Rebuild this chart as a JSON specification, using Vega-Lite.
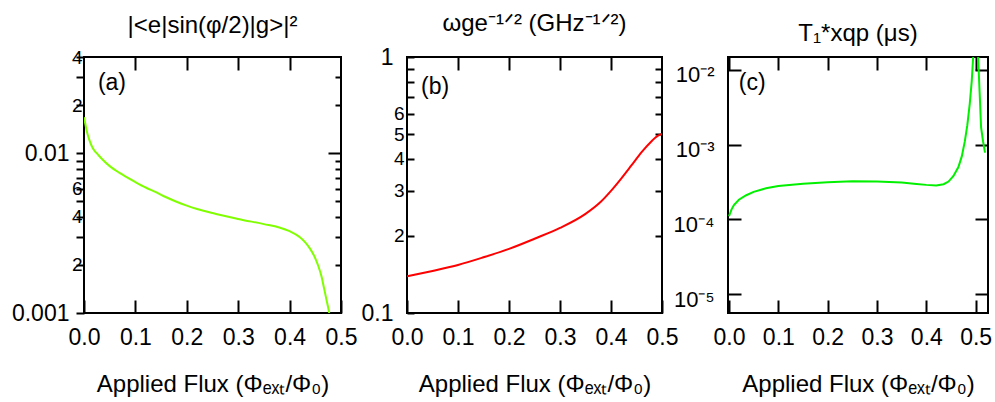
{
  "$schema": "https://vega.github.io/schema/vega-lite/v6.json",
  "autosize": {"type": "pad"},
  "padding": {"left": 10, "top": 11, "right": 5, "bottom": 5},
  "background": "white",
  "spacing": 66,
  "bounds": "flush",
  "config": {
    "view": {"stroke": "black", "strokeWidth": 2},
    "axis": {"domain": false, "grid": false, "ticks": true, "zindex": 1, "tickColor": "black", "tickWidth": 2, "tickOpacity": 1, "labelColor": "black", "labelFont": "Liberation Sans", "titleFont": "Liberation Sans", "titleFontWeight": "normal", "titleFontSize": 24, "labelFontSize": 23, "labelFlush": false, "labelOverlap": false, "titleColor": "black"},
    "title": {"font": "Liberation Sans", "fontSize": 24, "fontWeight": "normal", "color": "black", "offset": 10}
  },
  "hconcat": [
    {
      "width": 257, "height": 256,
      "title": {"text": "|<e|sin(φ/2)|g>|²"},
      "layer": [
        {
          "data": {"values": [
            {"flux": 0, "value": 0.0168}, {"flux": 0.003, "value": 0.015}, {"flux": 0.006, "value": 0.0135}, {"flux": 0.01, "value": 0.0122}, {"flux": 0.015, "value": 0.0111}, {"flux": 0.02, "value": 0.0104}, {"flux": 0.026, "value": 0.0099}, {"flux": 0.035, "value": 0.0092}, {"flux": 0.05, "value": 0.0083}, {"flux": 0.07, "value": 0.0075}, {"flux": 0.1, "value": 0.0066}, {"flux": 0.12, "value": 0.0061}, {"flux": 0.14, "value": 0.0057}, {"flux": 0.16, "value": 0.0053}, {"flux": 0.18, "value": 0.00497}, {"flux": 0.2, "value": 0.0047}, {"flux": 0.22, "value": 0.00448}, {"flux": 0.25, "value": 0.00422}, {"flux": 0.3, "value": 0.00388}, {"flux": 0.35, "value": 0.0036}, {"flux": 0.38, "value": 0.00343}, {"flux": 0.4, "value": 0.00325}, {"flux": 0.42, "value": 0.00298}, {"flux": 0.43, "value": 0.00278}, {"flux": 0.44, "value": 0.00252}, {"flux": 0.45, "value": 0.0022}, {"flux": 0.456, "value": 0.00196}, {"flux": 0.462, "value": 0.0017}, {"flux": 0.467, "value": 0.00143}, {"flux": 0.472, "value": 0.0012}, {"flux": 0.477, "value": 0.001}, {"flux": 0.479, "value": 0.0009}
          ]},
          "mark": {"type": "line", "color": "#80ff00", "strokeWidth": 2, "clip": true, "interpolate": "monotone"},
          "encoding": {
            "x": {"field": "flux", "type": "quantitative", "scale": {"domain": [0, 0.5], "nice": false, "zero": false},
              "axis": {"orient": "bottom", "values": [0, 0.1, 0.2, 0.3, 0.4, 0.5], "format": ".1f", "tickSize": -13, "labelPadding": 26, "title": "Applied Flux (Φₑₓₜ/Φ₀)", "titlePadding": 23}},
            "y": {"field": "value", "type": "quantitative", "scale": {"type": "log", "domain": [0.001, 0.04], "nice": false},
              "axis": {"orient": "left", "title": null, "values": [0.001, 0.002, 0.003, 0.004, 0.005, 0.006, 0.007, 0.008, 0.009, 0.01, 0.02, 0.03, 0.04],
                "labelExpr": "datum.value == 0.001 ? '0.001' : datum.value == 0.01 ? '0.01' : (datum.value == 0.002 || datum.value == 0.02) ? '2' : (datum.value == 0.004 || datum.value == 0.04) ? '4' : datum.value == 0.006 ? '6' : ''",
                "tickSize": 8,
                "labelFontSize": {"condition": {"test": "datum.value == 0.001 || datum.value == 0.01", "value": 23}, "value": 19},
                "labelPadding": {"condition": {"test": "datum.value == 0.001 || datum.value == 0.01", "value": 7}, "value": -6}}}
          }
        },
        {
          "data": {"values": [{"label": "(a)"}]},
          "mark": {"type": "text", "align": "left", "baseline": "middle", "fontSize": 23, "font": "Liberation Sans", "color": "black"},
          "encoding": {
            "text": {"field": "label"},
            "x": {"datum": 0.027, "type": "quantitative", "scale": {"domain": [0, 0.5], "nice": false, "zero": false},
              "axis": {"orient": "top", "values": [0.1, 0.2, 0.3, 0.4], "labels": false, "tickSize": -13, "title": null}},
            "y": {"datum": 0.0274, "type": "quantitative", "scale": {"type": "log", "domain": [0.001, 0.04], "nice": false},
              "axis": {"orient": "right", "values": [0.002, 0.003, 0.004, 0.005, 0.006, 0.007, 0.008, 0.009, 0.01, 0.02, 0.03], "labels": false, "title": null,
                "tickSize": {"condition": {"test": "datum.value == 0.01", "value": -13}, "value": -6}}}
          }
        }
      ],
      "resolve": {"axis": {"x": "independent", "y": "independent"}}
    },
    {
      "width": 255, "height": 256,
      "title": {"text": "ωge⁻¹ᐟ² (GHz⁻¹ᐟ²)"},
      "layer": [
        {
          "data": {"values": [
            {"flux": 0, "value": 0.139}, {"flux": 0.05, "value": 0.146}, {"flux": 0.1, "value": 0.154}, {"flux": 0.15, "value": 0.165}, {"flux": 0.2, "value": 0.178}, {"flux": 0.25, "value": 0.195}, {"flux": 0.3, "value": 0.215}, {"flux": 0.35, "value": 0.244}, {"flux": 0.38, "value": 0.272}, {"flux": 0.4, "value": 0.3}, {"flux": 0.42, "value": 0.335}, {"flux": 0.44, "value": 0.377}, {"flux": 0.46, "value": 0.425}, {"flux": 0.48, "value": 0.47}, {"flux": 0.49, "value": 0.49}, {"flux": 0.5, "value": 0.5}
          ]},
          "mark": {"type": "line", "color": "#ff0000", "strokeWidth": 2, "clip": true, "interpolate": "monotone"},
          "encoding": {
            "x": {"field": "flux", "type": "quantitative", "scale": {"domain": [0, 0.5], "nice": false, "zero": false},
              "axis": {"orient": "bottom", "values": [0, 0.1, 0.2, 0.3, 0.4, 0.5], "format": ".1f", "tickSize": -13, "labelPadding": 26, "title": "Applied Flux (Φₑₓₜ/Φ₀)", "titlePadding": 23}},
            "y": {"field": "value", "type": "quantitative", "scale": {"type": "log", "domain": [0.1, 1], "nice": false},
              "axis": {"orient": "left", "title": null, "values": [0.1, 0.2, 0.3, 0.4, 0.5, 0.6, 0.7, 0.8, 0.9, 1],
                "labelExpr": "datum.value == 1 ? '1' : datum.value == 0.1 ? '0.1' : datum.value == 0.2 ? '2' : datum.value == 0.3 ? '3' : datum.value == 0.4 ? '4' : datum.value == 0.5 ? '5' : datum.value == 0.6 ? '6' : ''",
                "tickSize": -7,
                "labelFontSize": {"condition": {"test": "datum.value == 0.1 || datum.value == 1", "value": 23}, "value": 19},
                "labelPadding": {"condition": {"test": "datum.value == 0.1 || datum.value == 1", "value": 21}, "value": 10}}}
          }
        },
        {
          "data": {"values": [{"label": "(b)"}]},
          "mark": {"type": "text", "align": "left", "baseline": "middle", "fontSize": 23, "font": "Liberation Sans", "color": "black"},
          "encoding": {
            "text": {"field": "label"},
            "x": {"datum": 0.0275, "type": "quantitative", "scale": {"domain": [0, 0.5], "nice": false, "zero": false},
              "axis": {"orient": "top", "values": [0.1, 0.2, 0.3, 0.4], "labels": false, "tickSize": -13, "title": null}},
            "y": {"datum": 0.763, "type": "quantitative", "scale": {"type": "log", "domain": [0.1, 1], "nice": false},
              "axis": {"orient": "right", "values": [0.2, 0.3, 0.4, 0.5, 0.6, 0.7, 0.8, 0.9], "labels": false, "title": null, "tickSize": -7}}
          }
        }
      ],
      "resolve": {"axis": {"x": "independent", "y": "independent"}}
    },
    {
      "width": 260, "height": 256,
      "title": {"text": "T₁*xqp (μs)"},
      "layer": [
        {
          "data": {"values": [
            {"flux": 0, "value": 0.00011}, {"flux": 0.005, "value": 0.000135}, {"flux": 0.01, "value": 0.000155}, {"flux": 0.02, "value": 0.000183}, {"flux": 0.035, "value": 0.00021}, {"flux": 0.05, "value": 0.000233}, {"flux": 0.075, "value": 0.00026}, {"flux": 0.1, "value": 0.00028}, {"flux": 0.15, "value": 0.0003}, {"flux": 0.2, "value": 0.000313}, {"flux": 0.25, "value": 0.000322}, {"flux": 0.3, "value": 0.00032}, {"flux": 0.35, "value": 0.00031}, {"flux": 0.38, "value": 0.000298}, {"flux": 0.4, "value": 0.000289}, {"flux": 0.42, "value": 0.000283}, {"flux": 0.435, "value": 0.000295}, {"flux": 0.445, "value": 0.00032}, {"flux": 0.455, "value": 0.00038}, {"flux": 0.465, "value": 0.0005}, {"flux": 0.472, "value": 0.0007}, {"flux": 0.478, "value": 0.0011}, {"flux": 0.483, "value": 0.0018}, {"flux": 0.488, "value": 0.0035}, {"flux": 0.492, "value": 0.007}, {"flux": 0.495, "value": 0.015}, {"flux": 0.5, "value": 0.1}, {"flux": 0.505, "value": 0.015}, {"flux": 0.508, "value": 0.005}, {"flux": 0.511, "value": 0.0017}, {"flux": 0.515, "value": 0.0011}, {"flux": 0.519, "value": 0.00078}
          ]},
          "mark": {"type": "line", "color": "#00f000", "strokeWidth": 2, "clip": true},
          "encoding": {
            "x": {"field": "flux", "type": "quantitative", "scale": {"domain": [-0.002, 0.525], "nice": false, "zero": false},
              "axis": {"orient": "bottom", "values": [0, 0.1, 0.2, 0.3, 0.4, 0.5], "format": ".1f", "tickSize": -13, "labelPadding": 26, "title": "Applied Flux (Φₑₓₜ/Φ₀)", "titlePadding": 23}},
            "y": {"field": "value", "type": "quantitative", "scale": {"type": "log", "domain": [0.0000056, 0.0148], "nice": false},
              "axis": {"orient": "left", "title": null, "values": [0.00001, 0.0001, 0.001, 0.01],
                "labelExpr": "datum.value == 0.01 ? '10⁻²' : datum.value == 0.001 ? '10⁻³' : datum.value == 0.0001 ? '10⁻⁴' : '10⁻⁵'",
                "tickSize": -13, "labelPadding": 27, "labelFontSize": 22, "labelOffset": 5}}
          }
        },
        {
          "data": {"values": [{"label": "(c)"}]},
          "mark": {"type": "text", "align": "left", "baseline": "middle", "fontSize": 23, "font": "Liberation Sans", "color": "black"},
          "encoding": {
            "text": {"field": "label"},
            "x": {"datum": 0.02, "type": "quantitative", "scale": {"domain": [-0.002, 0.525], "nice": false, "zero": false},
              "axis": {"orient": "top", "values": [0, 0.1, 0.2, 0.3, 0.4, 0.5], "labels": false, "tickSize": -13, "title": null}},
            "y": {"datum": 0.00655, "type": "quantitative", "scale": {"type": "log", "domain": [0.0000056, 0.0148], "nice": false},
              "axis": {"orient": "right", "values": [0.00001, 0.0001, 0.001, 0.01], "labels": false, "title": null, "tickSize": -13}}
          }
        }
      ],
      "resolve": {"axis": {"x": "independent", "y": "independent"}}
    }
  ]
}
